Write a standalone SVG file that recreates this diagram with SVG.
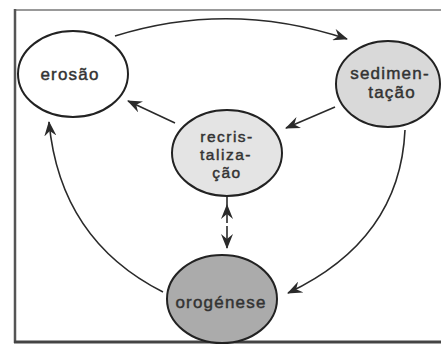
<svg xmlns="http://www.w3.org/2000/svg" width="441" height="352" viewBox="0 0 441 352">
<defs>
<marker id="ah" viewBox="0 0 15 12" refX="14" refY="6" markerWidth="15" markerHeight="12" markerUnits="userSpaceOnUse" orient="auto">
<path d="M0,0 L15,6 L0,12 L5,6 z" fill="#2a2a2a"/>
</marker>
<style>
.node{stroke:#222;stroke-width:2}
.lbl{font-family:"Liberation Sans",Arial,sans-serif;font-size:17px;letter-spacing:1.2px;fill:#333;stroke:#333;stroke-width:0.45;text-anchor:middle}
.sm{font-size:15.5px;letter-spacing:1.5px}
.con{fill:none;stroke:#2a2a2a;stroke-width:1.6}
</style>
</defs>
<rect x="0" y="0" width="441" height="352" fill="#ffffff"/>
<g id="frame">
<line x1="14" y1="10" x2="441" y2="10" stroke="#777" stroke-width="1.5"/>
<line x1="15" y1="9" x2="15" y2="343" stroke="#555" stroke-width="2.5"/>
<line x1="14" y1="342" x2="441" y2="342" stroke="#444" stroke-width="3"/>
</g>
<g id="connectors">
<path class="con" d="M115,36 Q230,0 347,39" marker-end="url(#ah)"/>
<path class="con" d="M335,107 L286,128" marker-end="url(#ah)"/>
<path class="con" d="M175,123 L128,101" marker-end="url(#ah)"/>
<path class="con" d="M163,292 Q60,240 49,122" marker-end="url(#ah)"/>
<path class="con" d="M405,130 Q400,240 288,293" marker-end="url(#ah)"/>
<path class="con" d="M227,223 L227,205 L227,197" marker-mid="url(#ah)"/>
<path class="con" d="M227,226 L227,248" marker-end="url(#ah)"/>
</g>
<g id="erosao">
<ellipse class="node" cx="73" cy="74" rx="55" ry="43" fill="#ffffff"/>
<text class="lbl" x="70" y="80">erosão</text>
</g>
<g id="sedimentacao">
<ellipse class="node" cx="388" cy="84" rx="52" ry="43" fill="#d9d9d9"/>
<text class="lbl" x="390" y="79">sedimen-</text>
<text class="lbl" x="392" y="98">tação</text>
</g>
<g id="recristalizacao">
<ellipse class="node" cx="227" cy="153" rx="55" ry="43" fill="#e4e4e4"/>
<text class="lbl sm" x="227" y="142">recris-</text>
<text class="lbl sm" x="226" y="160">taliza-</text>
<text class="lbl sm" x="227" y="178">ção</text>
</g>
<g id="orogenese">
<ellipse class="node" cx="222" cy="299" rx="55" ry="44" fill="#ababab"/>
<text class="lbl" x="221" y="308">orogénese</text>
</g>
</svg>
